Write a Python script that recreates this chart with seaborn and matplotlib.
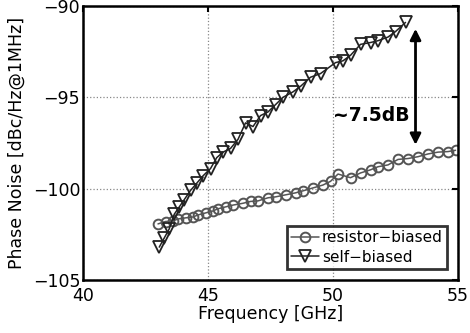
import matplotlib
matplotlib.use("Agg")
import matplotlib.pyplot as plt
import seaborn as sns

# resistor-biased VCO (circles)
freq_res = [43.0, 43.3, 43.6, 43.8, 44.1, 44.4, 44.6, 44.9, 45.2, 45.4, 45.7, 46.0,
            46.4, 46.7, 47.0, 47.4, 47.7, 48.1, 48.5, 48.8, 49.2, 49.6, 49.9, 50.2,
            50.7, 51.1, 51.5, 51.8, 52.2, 52.6, 53.0, 53.4, 53.8, 54.2, 54.6, 54.9]
pn_res = [-101.93, -101.8, -101.77, -101.66, -101.6, -101.55, -101.44, -101.33,
          -101.22, -101.1, -101.0, -100.9, -100.8, -100.7, -100.67, -100.5, -100.45,
          -100.34, -100.23, -100.12, -99.96, -99.8, -99.6, -99.2, -99.4, -99.14,
          -98.97, -98.8, -98.7, -98.4, -98.35, -98.25, -98.1, -98.0, -97.97, -97.9]

# self-biased VCO (triangles)
freq_self = [43.05, 43.25, 43.45, 43.65, 43.85, 44.05, 44.3, 44.55, 44.8, 45.1, 45.35,
             45.6, 45.9, 46.2, 46.5, 46.8, 47.1, 47.4, 47.7, 48.0, 48.4, 48.7, 49.1,
             49.5, 50.1, 50.4, 50.7, 51.1, 51.5, 51.8, 52.2, 52.5, 52.9]
pn_self = [-103.2, -102.7, -102.2, -101.4, -101.0, -100.6, -100.1, -99.7, -99.3, -98.9,
           -98.3, -98.0, -97.8, -97.3, -96.4, -96.6, -96.0, -95.8, -95.4, -95.0, -94.7,
           -94.4, -93.9, -93.7, -93.1, -93.0, -92.7, -92.1, -92.0, -91.9, -91.7, -91.4,
           -90.9]

sns.set_style("white")
plt.rcParams.update({
    'font.family': ['DejaVu Sans'],
    'text.color': 'black',
    'axes.labelcolor': 'black',
    'xtick.color': 'black',
    'ytick.color': 'black',
})

fig = plt.figure(figsize=(4.7, 3.33), dpi=100)
ax = fig.add_axes([0.1766, 0.1592, 0.7979, 0.8228])

sns.lineplot(x=freq_res, y=pn_res, ax=ax, color='#555555', marker='o',
             markersize=7, markerfacecolor='none', markeredgecolor='#555555',
             markeredgewidth=1.4, linewidth=1.1, label='resistor\u2212biased')
sns.lineplot(x=freq_self, y=pn_self, ax=ax, color='#222222', marker='v',
             markersize=8, markerfacecolor='none', markeredgecolor='#222222',
             markeredgewidth=1.3, linewidth=1.1, label='self\u2212biased')

ax.set_xlim(40, 55)
ax.set_ylim(-105, -90)
ax.set_xticks([40, 45, 50, 55])
ax.set_yticks([-105, -100, -95, -90])
ax.set_yticklabels(['\u2212105', '\u2212100', '\u221295', '\u221290'])
ax.grid(True, linestyle=':', color='#888888', linewidth=0.9)
ax.tick_params(direction='in', length=4, width=1.5, labelsize=12.5,
               top=True, right=True, pad=2)
ax.tick_params(axis='x', pad=5)
for s in ax.spines.values():
    s.set_linewidth(1.8)
    s.set_color('black')

ax.set_xlabel('Frequency [GHz]', fontsize=12.5, labelpad=0)
ax.set_ylabel('Phase Noise [dBc/Hz@1MHz]', fontsize=12.5, labelpad=5)

# ~7.5 dB gap arrow
ax.annotate('', xy=(53.3, -91.25), xytext=(53.3, -97.6),
            arrowprops=dict(arrowstyle='<|-|>', color='black', lw=2,
                            mutation_scale=16, shrinkA=0, shrinkB=0))
ax.text(51.55, -96.0, '~7.5dB', fontsize=13.5, fontweight='bold',
        ha='center', va='center')

leg = ax.legend(loc='lower right', fontsize=11, frameon=True, fancybox=False,
                handlelength=1.8, handletextpad=0.2, borderpad=0.3,
                labelspacing=0.3, borderaxespad=0.7)
leg.get_frame().set_edgecolor('black')
leg.get_frame().set_linewidth(2)
for t in leg.get_texts():
    t.set_color('black')

fig.savefig('out.png', dpi=100)
